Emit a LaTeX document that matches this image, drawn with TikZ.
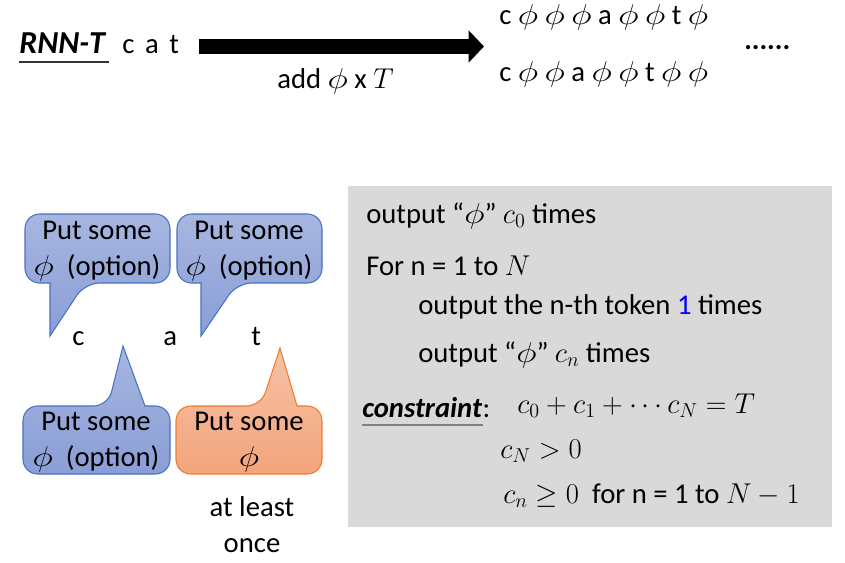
\RequirePackage{fix-cm}
\documentclass[tikz,border=0pt]{standalone}
\usepackage{fontspec}
\setmainfont{Carlito}
\usetikzlibrary{arrows.meta}
\definecolor{callTop}{HTML}{A7B6E0}
\definecolor{callBot}{HTML}{8A9ED6}
\definecolor{callLine}{HTML}{4472C4}
\definecolor{warmTop}{HTML}{F6C2A6}
\definecolor{warmBot}{HTML}{F3A47C}
\definecolor{warmLine}{HTML}{ED7D31}
\definecolor{boxGray}{HTML}{D9D9D9}
\definecolor{tokBlue}{HTML}{0000FF}
\newcommand{\slidefont}{\fontsize{21.5}{27}\selectfont}
\newcommand{\ph}{\scalebox{1.22}[1.0]{$\phi$}}
\tikzset{
  txt/.style={font=\slidefont, inner sep=0pt, anchor=base west},
  ctxt/.style={font=\slidefont, inner sep=0pt, align=center},
  callblue/.style={top color=callTop, bottom color=callBot, draw=callLine, line width=0.8pt},
  callwarm/.style={top color=warmTop, bottom color=warmBot, draw=warmLine, line width=0.8pt},
  bigarrow/.style={line width=11.25pt, -{Triangle[length=11.5pt, width=23.5pt]}}
}
\begin{document}
\begin{tikzpicture}[x=0.75pt, y=-0.75pt]
  \useasboundingbox (0,0) rectangle (845,562);
  % top line
  \node[txt, font=\fontsize{24}{26}\selectfont\bfseries\itshape] (rnnt) at (19,53) {RNN-T};
  \draw[line width=1.5pt, black!80] (19,61.5) -- (109,61.5);
  \node[txt] (cat) at (122,53) {c\hspace{8pt}a\hspace{8pt}t};
  \coordinate (arrS) at (199,46.5);
  \coordinate (arrE) at (484,46.5);
  \draw[bigarrow] (arrS) -- (arrE);
  \node[txt] (addphi) at (277,88) {add \ph{} x $T$};
  \node[txt] (seqA) at (499,24) {c \ph{} \ph{} \ph{} a \ph{} \ph{} t \ph};
  \node[txt] (seqB) at (499,81) {c \ph{} \ph{} a \ph{} \ph{} t \ph{} \ph};
  \node[txt, font=\slidefont\bfseries] (dots) at (744,49) {......};
  % callouts
  \path[callblue] (50,336) -- (50,283) [rounded corners=11] -- (25,283) -- (25,214) -- (170,214) -- (170,283) -- (85,283) [sharp corners] -- cycle;
  \path[callblue] (201,336) -- (201,283) [rounded corners=11] -- (177,283) -- (177,214) -- (322,214) -- (322,283) -- (237,283) [sharp corners] -- cycle;
  \path[callblue] (123,346) -- (145,406) [rounded corners=11] -- (170,406) -- (170,474) -- (23,474) -- (23,406) -- (108,406) [sharp corners] -- cycle;
  \path[callwarm] (280,348) -- (297,406) [rounded corners=11] -- (322,406) -- (322,474) -- (176,474) -- (176,406) -- (261,406) [sharp corners] -- cycle;
  \node[ctxt] (optA) at (97,251) {Put some\\\ph\ \ (option)};
  \node[ctxt] (optB) at (249,251) {Put some\\\ph\ \ (option)};
  \node[ctxt] (optC) at (96,442) {Put some\\\ph\ \ (option)};
  \node[ctxt] (must) at (249,442) {Put some\\\ph};
  \node[txt] (lc) at (72,345) {c};
  \node[txt] (la) at (163,345) {a};
  \node[txt] (lt) at (251,345) {t};
  \node[ctxt] (once) at (252,525) {at least\\once};
  % algorithm box
  \fill[boxGray] (348,186) rectangle (832,527);
  \node[txt] (outA) at (366,223) {output “\ph” $c_0$ times};
  \node[txt] (forN) at (366,275) {For n = 1 to $N$};
  \node[txt] (outB) at (418,314) {output the n-th token \textcolor{tokBlue}{1} times};
  \node[txt] (outC) at (418,362) {output “\ph” $c_n$ times};
  \node[txt, font=\slidefont\bfseries\itshape] (cons) at (362,417) {constraint};
  \node[txt, anchor=base west] (colon) at (cons.base east) {:};
  \draw[line width=1.5pt, black!50] (362,425) -- (483,425);
  \node[txt] (eqA) at (517,413) {$c_0+c_1+\cdots c_N=T$};
  \node[txt] (eqB) at (500,458) {$c_N>0$};
  \node[txt] (eqC) at (503,503) {$c_n\geq 0$\ \ for n = 1 to $N-1$};
\end{tikzpicture}
\end{document}
